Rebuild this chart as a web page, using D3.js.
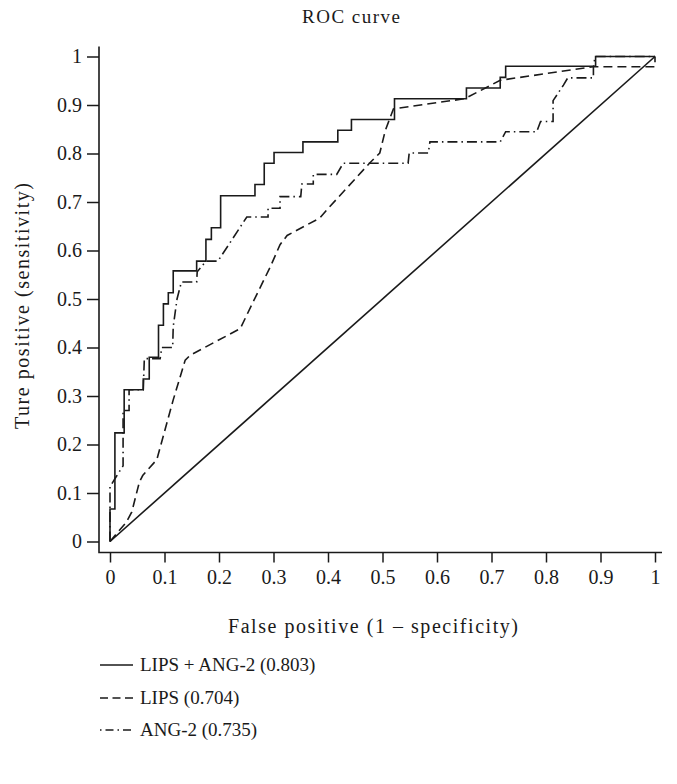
<!DOCTYPE html>
<html>
<head>
<meta charset="utf-8">
<script src="https://cdn.jsdelivr.net/npm/d3@7"></script>
<style>
  html, body { margin: 0; padding: 0; background: #fff; }
  svg { display: block; }
  text { font-family: "Liberation Serif", "DejaVu Serif", serif; fill: #1a1a1a; }
</style>
</head>
<body>
<svg id="chart" width="677" height="784"></svg>
<script>
// ---------- data ----------
const titleText = "ROC curve";
const xTitle = "False positive (1 \u2013 specificity)";
const yTitle = "Ture positive (sensitivity)";
const tickValues = [0, 0.1, 0.2, 0.3, 0.4, 0.5, 0.6, 0.7, 0.8, 0.9, 1];
const tickLabels = ["0", "0.1", "0.2", "0.3", "0.4", "0.5", "0.6", "0.7", "0.8", "0.9", "1"];

const seriesNames = ["LIPS + ANG-2 (0.803)", "LIPS (0.704)", "ANG-2 (0.735)"];

// LIPS + ANG-2 (step corners, drawn as step-after)
const combinedFpr = [0, 0, 0.009, 0.026, 0.061, 0.072, 0.089, 0.098, 0.107, 0.116, 0.159, 0.176, 0.186, 0.203, 0.266, 0.283, 0.301, 0.354, 0.418, 0.443, 0.522, 0.654, 0.716, 0.726, 0.891, 1];
const combinedTpr = [0, 0.067, 0.224, 0.313, 0.335, 0.38, 0.446, 0.49, 0.513, 0.558, 0.578, 0.623, 0.647, 0.713, 0.736, 0.78, 0.802, 0.824, 0.848, 0.87, 0.913, 0.935, 0.957, 0.98, 1, 1];

// LIPS
const lipsFpr = [0, 0.03, 0.04, 0.054, 0.06, 0.086, 0.116, 0.138, 0.147, 0.239, 0.26, 0.294, 0.312, 0.325, 0.385, 0.398, 0.477, 0.495, 0.505, 0.52, 0.651, 0.716, 0.887, 1, 1];
const lipsTpr = [0, 0.04, 0.061, 0.123, 0.136, 0.169, 0.292, 0.374, 0.384, 0.439, 0.488, 0.566, 0.612, 0.631, 0.667, 0.684, 0.781, 0.801, 0.847, 0.892, 0.913, 0.951, 0.979, 0.979, 1];

// ANG-2
const angFpr = [0, 0, 0.011, 0.024, 0.024, 0.035, 0.035, 0.061, 0.063, 0.092, 0.095, 0.115, 0.116, 0.123, 0.131, 0.159, 0.16, 0.176, 0.198, 0.251, 0.29, 0.29, 0.312, 0.312, 0.35, 0.352, 0.373, 0.373, 0.416, 0.428, 0.547, 0.549, 0.584, 0.587, 0.716, 0.726, 0.783, 0.79, 0.813, 0.813, 0.832, 0.84, 0.887, 0.887, 0.89, 1];
const angTpr = [0, 0.113, 0.133, 0.156, 0.27, 0.27, 0.313, 0.313, 0.377, 0.377, 0.4, 0.4, 0.443, 0.5, 0.535, 0.535, 0.556, 0.578, 0.578, 0.669, 0.669, 0.687, 0.687, 0.711, 0.711, 0.737, 0.737, 0.757, 0.757, 0.78, 0.78, 0.801, 0.801, 0.824, 0.824, 0.845, 0.845, 0.866, 0.866, 0.909, 0.941, 0.956, 0.956, 0.978, 1, 1];

// reference diagonal
const diagFpr = [0, 1];
const diagTpr = [0, 1];

// ---------- layout ----------
const svg = d3.select("#chart");
const W = 677, H = 784;
svg.append("rect").attr("width", W).attr("height", H).attr("fill", "#fff");

const x = d3.scaleLinear().domain([0, 1]).range([110, 655]);
const y = d3.scaleLinear().domain([0, 1]).range([541.5, 56.5]);

const ink = "#1a1a1a";
const tickFont = 20;
const labelFont = 20;

// title
svg.append("text").attr("x", 351).attr("y", 23)
  .attr("text-anchor", "middle").attr("font-size", 19)
  .attr("textLength", 98).attr("lengthAdjust", "spacing").text(titleText);

// axis frame positions
const axisY = y(0) + 11;    // x-axis line
const axisX = x(0) - 11;    // y-axis line

// y axis
const yAxis = d3.axisLeft(y).tickValues(tickValues)
  .tickFormat((d, i) => tickLabels[i]).tickSize(12).tickSizeOuter(0).tickPadding(5);
const gy = svg.append("g").attr("transform", `translate(${axisX},0)`).call(yAxis);
gy.select(".domain").remove();
gy.selectAll(".tick line").attr("stroke", ink).attr("stroke-width", 1.5);
gy.selectAll(".tick text").attr("font-size", tickFont)
  .attr("font-family", "Liberation Serif, serif").attr("fill", ink);

// x axis
const xAxis = d3.axisBottom(x).tickValues(tickValues)
  .tickFormat((d, i) => tickLabels[i]).tickSize(10).tickSizeOuter(0).tickPadding(7);
const gx = svg.append("g").attr("transform", `translate(0,${axisY})`).call(xAxis);
gx.select(".domain").remove();
gx.selectAll(".tick line").attr("stroke", ink).attr("stroke-width", 1.5);
gx.selectAll(".tick text").attr("font-size", tickFont)
  .attr("font-family", "Liberation Serif, serif").attr("fill", ink);

// axis lines (L shape)
svg.append("path")
  .attr("d", `M${axisX},${y(1) - 10}V${axisY}H${x(1) + 7}`)
  .attr("fill", "none").attr("stroke", ink).attr("stroke-width", 1.6);

// axis titles
svg.append("text").attr("x", 373).attr("y", 633)
  .attr("text-anchor", "middle").attr("font-size", labelFont)
  .attr("textLength", 290).attr("lengthAdjust", "spacing").text(xTitle);
svg.append("text")
  .attr("transform", `translate(29,306) rotate(-90)`)
  .attr("text-anchor", "middle").attr("font-size", labelFont)
  .attr("textLength", 246).attr("lengthAdjust", "spacing").text(yTitle);

// ---------- curves ----------
const toPts = (fx, fy) => fx.map((v, i) => [v, fy[i]]);
const lineLin = d3.line().x(d => x(d[0])).y(d => y(d[1]));
const lineStep = d3.line().x(d => x(d[0])).y(d => y(d[1])).curve(d3.curveStepAfter);

const plot = svg.append("g").attr("fill", "none").attr("stroke", ink)
  .attr("stroke-linejoin", "miter");

plot.append("path").attr("d", lineLin(toPts(diagFpr, diagTpr))).attr("stroke-width", 1.6);
plot.append("path").attr("d", lineLin(toPts(lipsFpr, lipsTpr)))
  .attr("stroke-width", 1.6).attr("stroke-dasharray", "9,5");
plot.append("path").attr("d", lineLin(toPts(angFpr, angTpr)))
  .attr("stroke-width", 1.6).attr("stroke-dasharray", "10,4,1.5,4");
plot.append("path").attr("d", lineStep(toPts(combinedFpr, combinedTpr)))
  .attr("stroke-width", 1.6);

// ---------- legend ----------
const legendRows = [671, 704, 736];
const legendDash = [null, "8,4.5", "1.5,4,8,4"];
const lg = svg.append("g");
seriesNames.forEach((name, i) => {
  const ly = legendRows[i];
  lg.append("line").attr("x1", 100).attr("x2", 133)
    .attr("y1", ly - 6).attr("y2", ly - 6)
    .attr("stroke", ink).attr("stroke-width", 1.6)
    .attr("stroke-dasharray", legendDash[i]);
  lg.append("text").attr("x", 140).attr("y", ly).attr("font-size", 19).text(name);
});
</script>
</body>
</html>
